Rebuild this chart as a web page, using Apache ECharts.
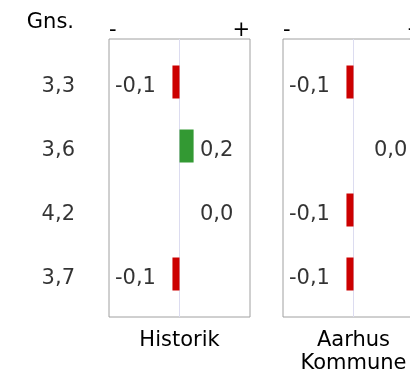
<!DOCTYPE html>
<html><head><meta charset="utf-8">
<script src="https://cdn.jsdelivr.net/npm/echarts@6/dist/echarts.min.js"></script>
<style>html,body{margin:0;padding:0;background:#fff}#c{width:410px;height:374px}</style>
</head><body><div id="c"></div>
<script>
const rowLabels = ['3,3', '3,6', '4,2', '3,7'];
const panelNames = ['Historik', 'Aarhus\nKommune'];
const historik = [-0.1, 0.2, 0.0, -0.1];
const aarhus = [-0.1, 0.0, -0.1, -0.1];
const axisEnds = ['-', '+'];
const headerLabel = 'Gns.';

const FONT = 'DejaVu Sans';
const FS = 21;
const RED = '#cc0000', GREEN = '#339933';
const panels = [historik, aarhus];
const lefts = [109, 283];
const W = 141;

const grids = [], xAxes = [], yAxes = [], series = [];
const fmt = v => v.toFixed(1).replace('.', ',').replace('-0,0', '0,0');

panels.forEach((vals, p) => {
  const gb = grids.length;
  grids.push({ left: lefts[p], width: W, top: 39, height: 278, show: true, borderColor: '#a0a0a0', borderWidth: 1, backgroundColor: 'transparent', outerBoundsMode: 'none', containLabel: false });
  grids.push({ left: lefts[p], width: W, top: 50, height: 256, outerBoundsMode: 'none', containLabel: false });
  xAxes.push({
    gridIndex: gb, type: 'value', min: -1, max: 1, interval: 1, position: 'top',
    axisLine: { show: false }, axisTick: { show: false },
    axisLabel: { fontFamily: FONT, fontSize: FS, color: '#000', margin: -2,
      alignMinLabel: 'left', alignMaxLabel: 'right',
      formatter: v => v === -1 ? axisEnds[0] : (v === 1 ? axisEnds[1] : '') },
    splitLine: { show: true, lineStyle: { color: ['rgba(0,0,0,0)', '#dcdcf0'], width: 1 } }
  });
  yAxes.push({ gridIndex: gb, type: 'value', show: false });
  xAxes.push({
    gridIndex: gb + 1, type: 'value', min: -1, max: 1,
    axisLine: { show: false }, axisTick: { show: false }, axisLabel: { show: false }, splitLine: { show: false },
    name: panelNames[p], nameLocation: 'middle', nameGap: 23,
    nameTextStyle: { fontFamily: FONT, fontSize: FS, color: '#000', lineHeight: 23 }
  });
  yAxes.push({
    gridIndex: gb + 1, type: 'category', inverse: true, data: rowLabels,
    axisLine: { show: false }, axisTick: { show: false }, splitLine: { show: false },
    axisLabel: { show: false }
  });
  series.push({
    type: 'bar', xAxisIndex: gb + 1, yAxisIndex: gb + 1, barWidth: 33,
    data: vals.map(v => ({ value: v, itemStyle: { color: v < 0 ? RED : GREEN } })),
    silent: true, animation: false
  });
  series.push({
    type: 'scatter', xAxisIndex: gb + 1, yAxisIndex: gb + 1, symbolSize: 0,
    data: vals.map((v, i) => ({ value: [v < 0 ? -0.915 : 0.29, i], raw: v })),
    label: { show: true, position: 'right', distance: 0, fontFamily: FONT, fontSize: FS, color: '#000',
      offset: [0, 5], formatter: pr => fmt(pr.data.raw) },
    silent: true, animation: false
  });
  if (p === 0) {
    series.push({
      type: 'scatter', xAxisIndex: gb + 1, yAxisIndex: gb + 1, symbolSize: 0,
      data: rowLabels.map((t, i) => ({ value: [-1, i], name: t })),
      label: { show: true, position: 'left', distance: 34, fontFamily: FONT, fontSize: FS, color: '#000',
        offset: [0, 5], formatter: pr => pr.name },
      silent: true, animation: false
    });
  }
});

const chart = echarts.init(document.getElementById('c'));
chart.setOption({
  animation: false,
  grid: grids, xAxis: xAxes, yAxis: yAxes, series: series,
  graphic: [{ type: 'text', style: { text: headerLabel, x: 74, y: 23, align: 'right', verticalAlign: 'middle', font: FS + 'px "' + FONT + '"', fill: '#000' } }]
});
</script></body></html>
